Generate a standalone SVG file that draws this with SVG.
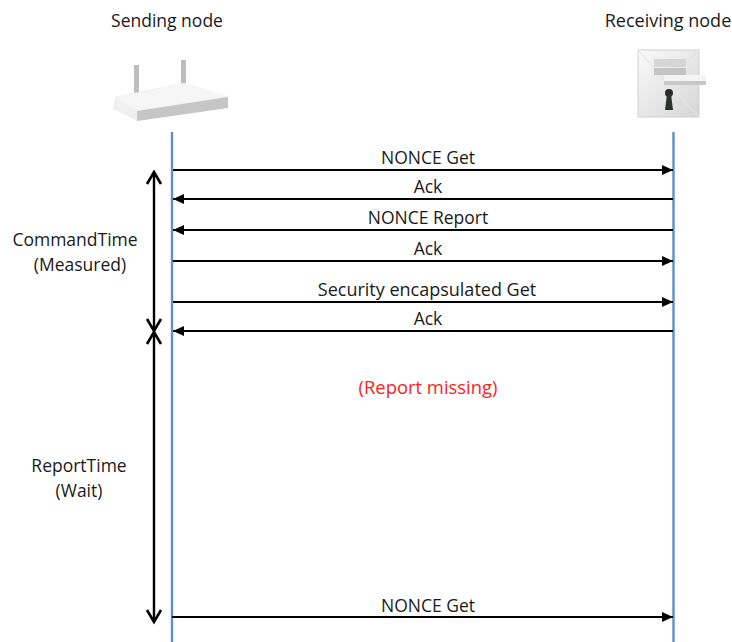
<svg xmlns="http://www.w3.org/2000/svg" width="732" height="642" viewBox="0 0 732 642">
<defs>
<marker id="tri" markerUnits="userSpaceOnUse" markerWidth="12" markerHeight="11" refX="11" refY="5.500" orient="auto-start-reverse"><path d="M0 0.500L11 5.500L0 10.500Z" fill="#000"/></marker>
<marker id="open" markerUnits="userSpaceOnUse" markerWidth="18" markerHeight="20" refX="15" refY="10" orient="auto-start-reverse"><path d="M3 3L15 10L3 17" fill="none" stroke="#000" stroke-width="2.600"/></marker>
<linearGradient id="btn" x1="0" y1="0" x2="1" y2="1"><stop offset="0" stop-color="#fafafa"/><stop offset="1" stop-color="#d6d6d6"/></linearGradient>
<filter id="soft"><feGaussianBlur stdDeviation="0.7"/></filter>
</defs>
<style>
text{font-family:"Open Sans","Noto Sans","Liberation Sans",sans-serif;font-size:17.500px;fill:#1a1a1a;text-anchor:middle}
.life{stroke:#5b8fd0;stroke-width:2.400;fill:none}
.msg{stroke:#000;stroke-width:2;fill:none;marker-end:url(#tri)}
.span{stroke:#000;stroke-width:2.400;fill:none;marker-start:url(#open);marker-end:url(#open)}
</style>
<rect width="732" height="642" fill="#fff"/>
<g id="sending-node">
<text x="167" y="27">Sending node</text>
<g filter="url(#soft)">
<rect x="134" y="65" width="5" height="30" fill="#bdbdbd"/>
<rect x="181" y="60" width="5" height="28" fill="#bdbdbd"/>
<path d="M115 97L184 83L228 97L137 111Z" fill="#f6f6f6" stroke="#e8e8e8" stroke-width="0.500"/>
<path d="M137 111L228 97V108L137 121Z" fill="#c6c6c6"/>
<path d="M115 97L137 111V121L113 109Z" fill="#f0f0f0"/>
</g>
<path d="M172 132V642" class="life"/>
</g>
<g id="receiving-node">
<text x="668" y="27" style="font-size:18px">Receiving node</text>
<g filter="url(#soft)">
<rect x="638" y="50" width="61" height="67" fill="url(#btn)" stroke="#cfcfcf"/>
<path d="M638 50L668 84L699 50" fill="none" stroke="#e0e0e0"/>
<path d="M638 117L668 84L699 117" fill="none" stroke="#e8e8e8"/>
<rect x="654" y="59" width="32" height="8" fill="#d6d6d6"/>
<rect x="654" y="68" width="32" height="7" fill="#c4c4c4"/>
<rect x="664" y="75" width="42" height="7" fill="#f4f4f4"/>
<rect x="664" y="81" width="42" height="4" fill="#c8c8c8"/>
<circle cx="669" cy="93" r="4" fill="#2c2c2c"/>
<path d="M667 94H671L673 110H665Z" fill="#2c352c"/>
</g>
<path d="M673.500 132V642" class="life"/>
</g>
<g id="connectors">
<path d="M173 170H673" class="msg"/>
<path d="M673 199H173" class="msg"/>
<path d="M673 230H173" class="msg"/>
<path d="M173 261H673" class="msg"/>
<path d="M173 302H673" class="msg"/>
<path d="M673 331H173" class="msg"/>
<path d="M172 617H673" class="msg"/>
<path d="M154 172V331" class="span"/>
<path d="M154 332V622" class="span"/>
</g>
<g id="labels">
<text x="428" y="164">NONCE Get</text>
<text x="428" y="193">Ack</text>
<text x="428" y="224">NONCE Report</text>
<text x="428" y="255">Ack</text>
<text x="427" y="296" style="font-size:18px">Security encapsulated Get</text>
<text x="428" y="325">Ack</text>
<text x="428" y="394" style="fill:#ff2020;font-size:18.400px">(Report missing)</text>
<text x="428" y="612">NONCE Get</text>
<text x="75" y="246">CommandTime</text>
<text x="80" y="271">(Measured)</text>
<text x="79" y="472">ReportTime</text>
<text x="79" y="497">(Wait)</text>
</g>
</svg>
